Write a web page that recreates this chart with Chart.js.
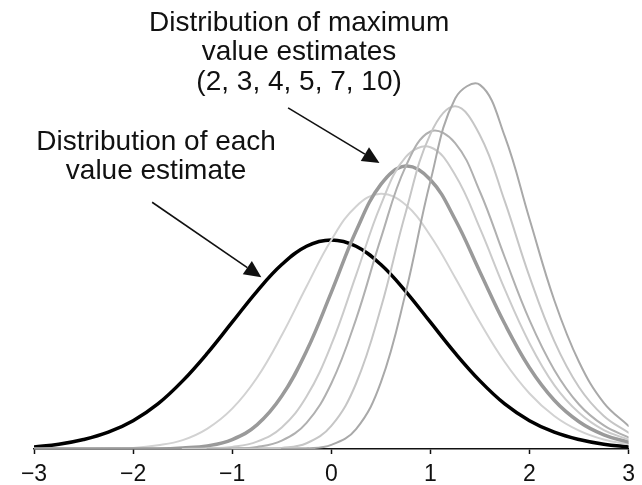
<!DOCTYPE html>
<html>
<head>
<meta charset="utf-8">
<script src="https://cdn.jsdelivr.net/npm/chart.js@4"></script>
<style>
  html, body { margin: 0; padding: 0; background: #ffffff; }
  #wrap { width: 642px; height: 485px; position: relative; }
</style>
</head>
<body>
<div id="wrap"><canvas id="c" width="642" height="485"></canvas></div>
<script>
// ---- data ----
const xValues = [-3, -2.75, -2.5, -2.25, -2, -1.75, -1.5, -1.25, -1, -0.75, -0.5, -0.25, 0,
                 0.25, 0.5, 0.75, 1, 1.25, 1.5, 1.75, 2, 2.25, 2.5, 2.75, 3];
const xTicks = [-3, -2, -1, 0, 1, 2, 3];

// distribution of each value estimate
const eachEstimate = [0.004, 0.009, 0.018, 0.032, 0.054, 0.086, 0.130, 0.183, 0.242, 0.301, 0.352, 0.387, 0.399,
                      0.387, 0.352, 0.301, 0.242, 0.183, 0.130, 0.086, 0.054, 0.032, 0.018, 0.009, 0.004];
// distributions of maximum value estimates
const max2 = [0.000, 0.000, 0.000, 0.001, 0.002, 0.007, 0.017, 0.039, 0.077, 0.136, 0.217, 0.310, 0.399,
              0.463, 0.487, 0.466, 0.407, 0.327, 0.242, 0.166, 0.106, 0.063, 0.035, 0.018, 0.009];
const max3 = [0.000, 0.000, 0.000, 0.000, 0.000, 0.000, 0.002, 0.006, 0.018, 0.046, 0.101, 0.187, 0.299,
              0.416, 0.505, 0.540, 0.514, 0.438, 0.338, 0.239, 0.155, 0.093, 0.052, 0.027, 0.013];
const max4 = [null, null, null, null, null, null, 0.000, 0.001, 0.004, 0.014, 0.041, 0.100, 0.199,
              0.332, 0.466, 0.557, 0.576, 0.523, 0.421, 0.305, 0.202, 0.122, 0.069, 0.036, 0.018];
const max5 = [null, null, null, null, null, null, null, 0.000, 0.001, 0.004, 0.016, 0.050, 0.125,
              0.248, 0.402, 0.539, 0.606, 0.584, 0.491, 0.366, 0.246, 0.151, 0.085, 0.045, 0.022];
const max7 = [null, null, null, null, null, null, null, null, 0.000, 0.000, 0.002, 0.011, 0.044,
              0.125, 0.269, 0.451, 0.601, 0.654, 0.599, 0.473, 0.329, 0.206, 0.118, 0.063, 0.031];
const max10 = [null, null, null, null, null, null, null, null, null, null, 0.000, 0.001, 0.008,
               0.038, 0.127, 0.298, 0.511, 0.669, 0.695, 0.597, 0.439, 0.284, 0.166, 0.088, 0.044];
// grey strokes lying along the axis line (start/end x)
const baseLightX = [-3, -1.58];
const baseDarkX = [-1.58, -0.23];

const titleMax = ['Distribution of maximum', 'value estimates', '(2, 3, 4, 5, 7, 10)'];
const titleEach = ['Distribution of each', 'value estimate'];

// ---- chart ----
function pts(ys) { return xValues.map((x, i) => ({ x: x, y: ys[i] })); }
function seg(xs) { return xs.map(x => ({ x: x, y: 0 })); }

const annot = {
  textMax: { x: -0.325, y: 0.813 },
  textEach: { x: -1.768, y: 0.586 },
  arrowMax: { x1: -0.436, y1: 0.651, x2: 0.486, y2: 0.546 },
  arrowEach: { x1: -1.808, y1: 0.471, x2: -0.706, y2: 0.328 },
  lineGap: 29.5,
  font: '28px "Liberation Sans", Arial, sans-serif'
};

const annotationPlugin = {
  id: 'annot',
  afterDatasetsDraw(chart) {
    const ctx = chart.ctx, xs = chart.scales.x, ys = chart.scales.y;
    ctx.save();
    ctx.fillStyle = '#111';
    ctx.font = annot.font;
    ctx.textAlign = 'center';
    ctx.textBaseline = 'middle';
    const drawText = (lines, p) => {
      const cx = xs.getPixelForValue(p.x), cy = ys.getPixelForValue(p.y);
      lines.forEach((t, i) => ctx.fillText(t, cx, cy + i * annot.lineGap));
    };
    drawText(titleMax, annot.textMax);
    drawText(titleEach, annot.textEach);
    const arrow = (a) => {
      const x1 = xs.getPixelForValue(a.x1), y1 = ys.getPixelForValue(a.y1);
      const x2 = xs.getPixelForValue(a.x2), y2 = ys.getPixelForValue(a.y2);
      const ang = Math.atan2(y2 - y1, x2 - x1);
      const hl = 17, hw = 8;
      const bx = x2 - hl * Math.cos(ang), by = y2 - hl * Math.sin(ang);
      ctx.strokeStyle = '#111';
      ctx.lineWidth = 1.6;
      ctx.beginPath(); ctx.moveTo(x1, y1); ctx.lineTo(bx, by); ctx.stroke();
      ctx.beginPath();
      ctx.moveTo(x2, y2);
      ctx.lineTo(bx + hw * Math.sin(ang), by - hw * Math.cos(ang));
      ctx.lineTo(bx - hw * Math.sin(ang), by + hw * Math.cos(ang));
      ctx.closePath();
      ctx.fillStyle = '#111';
      ctx.fill();
    };
    arrow(annot.arrowMax);
    arrow(annot.arrowEach);
    ctx.restore();
  }
};

const line = (label, data, color, width, order) => ({
  label, data, borderColor: color, borderWidth: width, pointRadius: 0,
  tension: 0.4, fill: false, order, borderCapStyle: 'round', borderJoinStyle: 'round', spanGaps: false
});

new Chart(document.getElementById('c'), {
  type: 'line',
  data: {
    datasets: [
      line('n=10', pts(max10), '#a9a9a9', 2, 1),
      line('n=7', pts(max7), '#c6c6c6', 2, 2),
      line('n=5', pts(max5), '#b0b0b0', 2, 3),
      line('n=4', pts(max4), '#cbcbcb', 2, 4),
      line('n=3', pts(max3), '#9a9a9a', 3.5, 5),
      line('n=2', pts(max2), '#d2d2d2', 2, 6),
      line('base dark', seg(baseDarkX), '#9a9a9a', 3, 7),
      line('base light', seg(baseLightX), '#c8c8c8', 3, 8),
      line('each', pts(eachEstimate), '#000000', 3.5, 9)
    ]
  },
  options: {
    responsive: false,
    animation: false,
    events: [],
    layout: { padding: { left: 34, right: 9, top: 0, bottom: 0 } },
    plugins: { legend: { display: false }, tooltip: { enabled: false }, title: { display: false } },
    scales: {
      x: {
        type: 'linear', min: -3, max: 3,
        afterFit(scale) { scale.height = 36; },
        afterBuildTicks(scale) { scale.ticks = xTicks.map(v => ({ value: v })); },
        ticks: {
          color: '#111', padding: 7, maxRotation: 0, autoSkip: false,
          font: { family: '"Liberation Sans", Arial, sans-serif', size: 23 },
          callback: v => (v < 0 ? '\u2212' + Math.abs(v) : String(v))
        },
        grid: { display: true, drawOnChartArea: false, drawTicks: true, tickLength: 5, tickColor: '#111', tickWidth: 1.5 },
        border: { display: true, color: '#111', width: 1.6 }
      },
      y: { display: false, min: 0, max: 0.857 }
    }
  },
  plugins: [annotationPlugin]
});
</script>
</body>
</html>
